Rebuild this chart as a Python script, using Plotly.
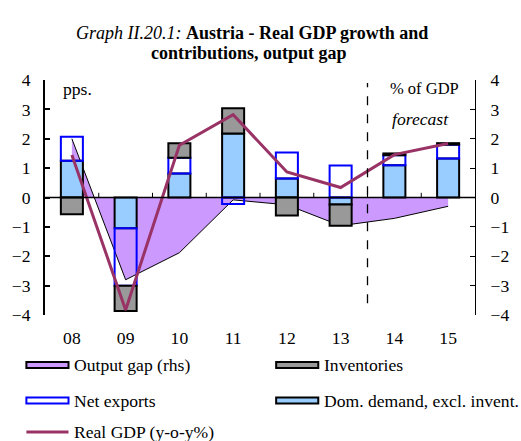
import plotly.graph_objects as go

# Years (category labels) and series, in percentage points / % of GDP
years = ["08", "09", "10", "11", "12", "13", "14", "15"]
dom_demand = [1.25, -1.05, 0.82, 2.18, 0.65, -0.24, 1.10, 1.33]
net_exports = [0.82, -1.95, 0.53, -0.22, 0.88, 1.09, 0.34, 0.47]
inventories = [-0.57, -0.86, 0.50, 0.86, -0.61, -0.72, 0.06, 0.05]
real_gdp = [1.45, -3.83, 1.78, 2.82, 0.87, 0.34, 1.46, 1.84]
output_gap = [2.0, -2.8, -1.88, -0.08, -0.25, -0.96, -0.71, -0.30]

FONT = "Liberation Serif"
FS = 17.6
W, H = 521, 441
L, R, T, B = 39, 43, 80, 126
PW, PH = W - L - R, H - T - B

xs = list(range(len(years)))
first_forecast = years.index("14")


def px(x):
    return (x - L) / PW


def py(y):
    return (H - B - y) / PH


fig = go.Figure()

# Output gap area (right-hand scale), drawn behind the bars
fig.add_trace(go.Scatter(
    x=xs, y=output_gap, yaxis="y", mode="lines", fill="tozeroy",
    fillcolor="#CC99FF", line=dict(color="black", width=1),
    name="Output gap (rhs)", showlegend=False))

# Stacked contributions (left-hand scale)
fig.add_trace(go.Bar(
    x=xs, y=dom_demand, yaxis="y2", width=0.41,
    marker=dict(color="#99CCFF", line=dict(color="black", width=2)),
    name="Dom. demand, excl. invent.", showlegend=False))
fig.add_trace(go.Bar(
    x=xs, y=net_exports, yaxis="y2", width=0.41,
    marker=dict(color="rgba(0,0,0,0)", line=dict(color="#0000FF", width=2)),
    name="Net exports", showlegend=False))
fig.add_trace(go.Bar(
    x=xs, y=inventories, yaxis="y2", width=0.41,
    marker=dict(color="#999999", line=dict(color="black", width=2)),
    name="Inventories", showlegend=False))

# Real GDP growth line
fig.add_trace(go.Scatter(
    x=xs, y=real_gdp, yaxis="y2", mode="lines",
    line=dict(color="#993366", width=3),
    name="Real GDP (y-o-y%)", showlegend=False))

shapes = []
# zero line with small upward ticks between years
shapes.append(dict(type="line", xref="paper", yref="y2", x0=0, x1=1, y0=0, y1=0,
                   line=dict(color="black", width=1.5), layer="above"))
for i in range(len(years) - 1):
    shapes.append(dict(type="line", xref="x", yref="y2", x0=i + 0.5, x1=i + 0.5,
                       y0=0, y1=0.16, line=dict(color="black", width=1), layer="above"))
# forecast separator
sep = first_forecast - 0.5
shapes.append(dict(type="line", xref="x", yref="y2", x0=sep, x1=sep, y0=-3.6, y1=3.9,
                   line=dict(color="black", width=1.3, dash="dash"), layer="above"))

annotations = [
    dict(text="<i>Graph II.20.1:</i> <b>Austria - Real GDP growth and</b>",
         xref="paper", yref="paper", x=px(250), y=py(21), showarrow=False,
         font=dict(family=FONT, size=18, color="black")),
    dict(text="<b>contributions, output gap</b>",
         xref="paper", yref="paper", x=px(247), y=py(41), showarrow=False,
         font=dict(family=FONT, size=18, color="black")),
    dict(text="pps.", xref="paper", yref="paper", x=px(55), y=py(77), xanchor="left",
         showarrow=False, font=dict(family=FONT, size=FS, color="black")),
    dict(text="% of GDP", xref="paper", yref="paper", x=px(464), y=py(77), xanchor="right",
         showarrow=False, font=dict(family=FONT, size=16.5, color="black")),
    dict(text="<i>forecast</i>", xref="x", yref="y2", x=6.48, y=2.66, showarrow=False,
         font=dict(family=FONT, size=FS, color="black")),
]

# Legend, laid out in two columns
legend_items = [
    ("Output gap (rhs)", 20, 365, "rect", "#CC99FF", "black"),
    ("Inventories", 275, 365, "rect", "#999999", "black"),
    ("Net exports", 20, 400.5, "rect", "white", "#0000FF"),
    ("Dom. demand, excl. invent.", 275, 400.5, "rect", "#99CCFF", "black"),
    ("Real GDP (y-o-y%)", 20, 432, "line", "#993366", "#993366"),
]
for label, x0, yc, kind, fill, edge in legend_items:
    if kind == "rect":
        shapes.append(dict(type="rect", xref="paper", yref="paper",
                           x0=px(x0), x1=px(x0 + 43), y0=py(yc - 3), y1=py(yc + 3),
                           fillcolor=fill, line=dict(color=edge, width=2)))
    else:
        shapes.append(dict(type="line", xref="paper", yref="paper",
                           x0=px(x0), x1=px(x0 + 43), y0=py(yc), y1=py(yc),
                           line=dict(color=fill, width=3)))
    annotations.append(dict(text=label, xref="paper", yref="paper",
                            x=px(x0 + 47), y=py(yc), xanchor="left", yanchor="middle",
                            showarrow=False, font=dict(family=FONT, size=FS, color="black")))

fig.update_layout(
    width=W, height=H,
    margin=dict(l=L, r=R, t=T, b=B),
    paper_bgcolor="white", plot_bgcolor="white",
    barmode="relative",
    font=dict(family=FONT, size=FS, color="black"),
    xaxis=dict(range=[-0.5, len(years) - 0.5], tickvals=xs, ticktext=years,
               showline=False, showgrid=False, zeroline=False, ticks="",
               tickfont=dict(family=FONT, size=FS), ticklabelstandoff=10),
    yaxis=dict(range=[-4, 4], dtick=1, side="right", showgrid=False, zeroline=False,
               showline=True, linecolor="black", linewidth=1,
               ticks="inside", ticklen=5, tickcolor="black",
               tickfont=dict(family=FONT, size=FS), ticklabelstandoff=11),
    yaxis2=dict(range=[-4, 4], dtick=1, side="left", overlaying="y", showgrid=False,
                zeroline=False, showline=True, linecolor="black", linewidth=2,
                ticks="inside", ticklen=5, tickcolor="black", tickwidth=1.5,
                tickfont=dict(family=FONT, size=FS), ticklabelstandoff=9),
    shapes=shapes,
    annotations=annotations,
    showlegend=False,
)

fig.write_html("out.html")
